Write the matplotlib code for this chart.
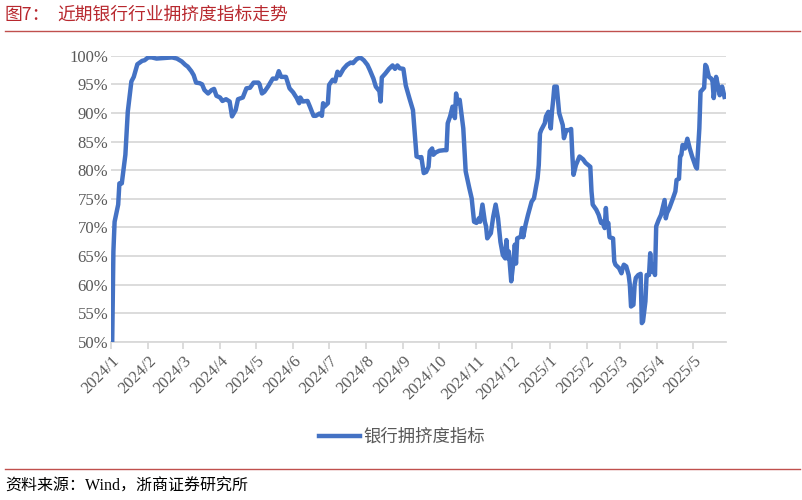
import matplotlib
matplotlib.use("Agg")
import matplotlib.pyplot as plt
import pandas as pd
from matplotlib.lines import Line2D

dates = [
    "2024-01-02","2024-01-03","2024-01-04","2024-01-07","2024-01-08","2024-01-10","2024-01-13","2024-01-15",
    "2024-01-18","2024-01-20","2024-01-23","2024-01-27","2024-01-29","2024-02-01","2024-02-04","2024-02-08",
    "2024-02-14","2024-02-21","2024-02-25","2024-02-29","2024-03-03","2024-03-05","2024-03-08","2024-03-10",
    "2024-03-12","2024-03-15","2024-03-17","2024-03-19","2024-03-22","2024-03-25","2024-03-27","2024-03-29",
    "2024-04-01","2024-04-03","2024-04-06","2024-04-09","2024-04-11","2024-04-14","2024-04-16","2024-04-20",
    "2024-04-23","2024-04-26","2024-04-29","2024-05-03","2024-05-04","2024-05-06","2024-05-08","2024-05-11",
    "2024-05-15","2024-05-18","2024-05-20","2024-05-22","2024-05-26","2024-05-29","2024-06-01","2024-06-04",
    "2024-06-06","2024-06-07","2024-06-09","2024-06-13","2024-06-15","2024-06-18","2024-06-20","2024-06-23",
    "2024-06-25","2024-06-26","2024-06-27","2024-06-30","2024-07-01","2024-07-04","2024-07-06","2024-07-08",
    "2024-07-10","2024-07-13","2024-07-16","2024-07-19","2024-07-21","2024-07-24","2024-07-27","2024-07-30",
    "2024-08-02","2024-08-04","2024-08-07","2024-08-09","2024-08-12","2024-08-13","2024-08-14","2024-08-17",
    "2024-08-20","2024-08-23","2024-08-25","2024-08-27","2024-08-29","2024-09-01","2024-09-03","2024-09-06",
    "2024-09-09","2024-09-12","2024-09-15","2024-09-16","2024-09-18","2024-09-20","2024-09-22","2024-09-23",
    "2024-09-25","2024-09-26","2024-09-28","2024-10-01","2024-10-05","2024-10-07","2024-10-08","2024-10-10",
    "2024-10-12","2024-10-14","2024-10-15","2024-10-16","2024-10-18","2024-10-21","2024-10-23","2024-10-26",
    "2024-10-28","2024-10-30","2024-11-01","2024-11-03","2024-11-04","2024-11-06","2024-11-08","2024-11-09",
    "2024-11-10","2024-11-13","2024-11-15","2024-11-17","2024-11-19","2024-11-21","2024-11-23","2024-11-25",
    "2024-11-26","2024-11-27","2024-11-28","2024-11-30","2024-12-02","2024-12-03","2024-12-04","2024-12-05",
    "2024-12-08","2024-12-09","2024-12-10","2024-12-12","2024-12-14","2024-12-17","2024-12-19","2024-12-22",
    "2024-12-23","2024-12-24","2024-12-25","2024-12-28","2024-12-29","2024-12-31","2025-01-02","2025-01-03",
    "2025-01-04","2025-01-05","2025-01-07","2025-01-09","2025-01-12","2025-01-13","2025-01-15","2025-01-17",
    "2025-01-19","2025-01-20","2025-01-21","2025-01-23","2025-01-26","2025-01-29","2025-01-31","2025-02-04",
    "2025-02-05","2025-02-06","2025-02-09","2025-02-11","2025-02-13","2025-02-14","2025-02-16","2025-02-17",
    "2025-02-18","2025-02-19","2025-02-20","2025-02-23","2025-02-24","2025-02-25","2025-02-28","2025-03-02",
    "2025-03-03","2025-03-04","2025-03-06","2025-03-08","2025-03-09","2025-03-10","2025-03-12","2025-03-13",
    "2025-03-14","2025-03-16","2025-03-18","2025-03-19","2025-03-20","2025-03-22","2025-03-23","2025-03-25",
    "2025-03-26","2025-03-27","2025-03-28","2025-03-30","2025-03-31","2025-04-02","2025-04-04","2025-04-07",
    "2025-04-08","2025-04-09","2025-04-11","2025-04-14","2025-04-16","2025-04-17","2025-04-19","2025-04-20",
    "2025-04-21","2025-04-22","2025-04-24","2025-04-26","2025-04-28","2025-04-30","2025-05-03","2025-05-04",
    "2025-05-06","2025-05-07","2025-05-10","2025-05-11","2025-05-12","2025-05-14","2025-05-16","2025-05-17",
    "2025-05-18","2025-05-20","2025-05-22","2025-05-23","2025-05-25","2025-05-27",
]
values = [
    50.1,65.8,71.0,74.0,77.7,77.7,82.7,90.2,
    95.5,96.3,98.5,99.1,99.2,99.7,99.7,99.5,
    99.6,99.7,99.5,99.0,98.4,98.1,97.3,96.6,
    95.3,95.2,95.0,94.0,93.4,94.0,94.2,93.0,
    92.7,92.1,92.4,92.0,89.4,90.5,92.4,92.7,
    94.3,94.4,95.3,95.3,95.0,93.4,93.7,94.6,
    96.0,96.0,97.3,96.3,96.3,94.3,93.6,92.6,
    91.7,92.7,92.0,92.1,91.1,89.5,89.5,89.9,
    89.5,91.7,91.1,91.7,94.9,95.8,95.5,97.2,
    96.6,97.7,98.4,98.8,98.7,99.4,99.7,99.2,
    98.4,97.5,96.0,94.6,93.8,92.0,96.2,96.9,
    97.7,98.3,97.7,98.3,97.8,97.7,94.8,92.6,
    90.5,82.4,82.2,82.3,79.5,79.7,80.6,83.3,
    83.8,82.7,83.1,83.4,83.5,83.5,88.2,89.4,
    91.1,89.1,93.4,91.7,92.3,87.3,79.8,76.9,
    75.1,71.0,70.8,71.6,71.0,74.0,71.0,70.2,
    68.1,69.0,71.9,74.0,71.6,67.5,65.2,64.6,
    67.8,64.6,65.8,60.6,64.3,67.0,63.7,68.1,
    68.4,69.9,68.3,70.5,72.2,74.5,75.1,78.6,
    80.9,86.4,87.0,88.2,89.4,90.2,87.3,90.2,
    92.2,94.6,94.6,90.0,87.9,85.6,87.0,87.0,
    87.2,82.7,79.2,80.9,82.4,81.9,81.3,80.6,
    76.3,74.0,73.1,72.2,70.8,71.0,69.9,73.4,
    70.2,70.8,68.3,68.1,64.1,63.5,62.9,62.0,
    62.9,63.5,63.2,61.7,60.0,56.2,56.5,60.0,
    61.2,61.7,61.9,53.3,53.6,57.1,61.7,61.7,
    65.5,62.3,63.5,61.7,70.2,71.3,72.2,74.8,
    71.6,72.5,73.4,75.1,76.3,78.3,78.5,82.4,
    82.7,84.4,83.8,85.5,83.8,82.4,80.6,80.3,
    87.3,93.7,94.4,98.4,98.1,96.3,96.0,95.5,
    92.6,96.3,94.3,93.1,94.6,92.8,
]
series_name = "银行拥挤度指标"
title_prefix = "图7："
title_text = "近期银行行业拥挤度指标走势"
source_text = "资料来源：Wind，浙商证券研究所"
y_ticks = [50, 55, 60, 65, 70, 75, 80, 85, 90, 95, 100]

plt.rcParams['font.family'] = ['Liberation Serif', 'Noto Sans CJK SC', 'DejaVu Sans']

x = pd.to_datetime(dates)
fig = plt.figure(figsize=(8.02, 5.0), dpi=100)
ax = fig.add_axes([111/802, 1-342/500, (725.7-111)/802, (342-55.7)/500])

ax.plot(x, values, color='#4472C4', lw=3.2, solid_joinstyle='round', zorder=3)

ax.set_ylim(50, 100)
ax.set_xlim(pd.Timestamp("2024-01-01"), pd.Timestamp("2025-05-28"))
ax.set_yticks(y_ticks)
ax.set_yticklabels([f"{v}%" for v in y_ticks])
ax.yaxis.grid(True, color='#D9D9D9', lw=1.3)
ax.set_axisbelow(True)
for s in ['left', 'right', 'top']:
    ax.spines[s].set_visible(False)
ax.spines['bottom'].set_color('#D9D9D9')
ax.spines['bottom'].set_linewidth(1.3)

month_ticks = pd.date_range("2024-01-01", "2025-05-01", freq="MS")
ax.set_xticks(month_ticks)
ax.set_xticklabels([f"{d.year}/{d.month}" for d in month_ticks], rotation=45,
                   ha='right', rotation_mode='anchor')
ax.tick_params(axis='x', colors='#D9D9D9', length=5, width=1.3, labelcolor='#595959',
               labelsize=12, pad=3)
ax.tick_params(axis='y', length=0, labelcolor='#595959', labelsize=12, pad=2)

# title
cjk = ['Noto Sans CJK SC', 'DejaVu Sans']
fig.text(5/802, 1-15/500, title_prefix, color='#B8282E', fontsize=12.8, va='center', ha='left', family=cjk)
fig.text(57/802, 1-15/500, title_text, color='#B8282E', fontsize=12.8, va='center', ha='left', family=cjk)
fig.add_artist(Line2D([5/802, 800/802], [1-31/500, 1-31/500], color='#C0504D', lw=1.0))
fig.add_artist(Line2D([5/802, 800/802], [1-469/500, 1-469/500], color='#C0504D', lw=1.0))
fig.text(5/802, 1-487/500, source_text, color='black', fontsize=11.5, va='center', ha='left',
         family=['Liberation Serif', 'Noto Sans CJK SC'])

handle = Line2D([], [], color='#4472C4', lw=3.2)
fig.legend([handle], [series_name], loc='center', bbox_to_anchor=(402/802, 1-437/500),
           frameon=False, prop={'family': cjk, 'size': 12.5}, labelcolor='#595959',
           handlelength=2.4, handletextpad=0.2)

fig.savefig("out.png", dpi=100)
